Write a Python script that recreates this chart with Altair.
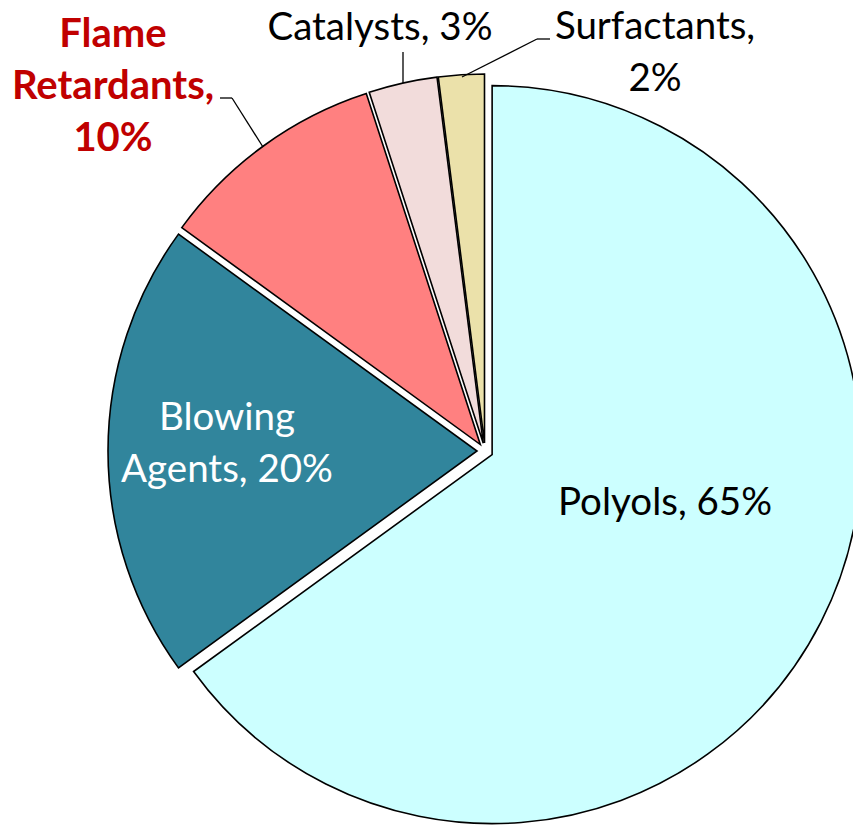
import altair as alt
import pandas as pd

# Foam formulation components, clockwise from 12 o'clock
components = ["Polyols", "Blowing Agents", "Flame Retardants", "Catalysts", "Surfactants"]
shares = [65, 20, 10, 3, 2]
slice_colors = ["#CCFFFF", "#31859C", "#FF8080", "#F2DCDB", "#EBE1AA"]

W, H = 853, 825
CX, CY = 485, 451          # pie centre in pixels
RADIUS = 369
EXPLODE = 8                # how far each slice is pulled out along its bisector
FONT = "Lato"
FS = 38.5

df = pd.DataFrame({"name": components, "value": shares, "idx": list(range(len(components)))})

base = alt.Chart(df).transform_joinaggregate(
    total="sum(value)"
).transform_window(
    cum="sum(value)", sort=[alt.SortField("idx")], frame=[None, 0]
).transform_calculate(
    mid="2*PI*(datum.cum - datum.value/2)/datum.total"
).transform_calculate(
    ex=f"{EXPLODE}*sin(datum.mid)",
    ey=f"-{EXPLODE}*cos(datum.mid)",
)

pie = base.mark_arc(radius=RADIUS, stroke="black", strokeWidth=1.6).encode(
    theta=alt.Theta("value:Q", stack=True),
    order=alt.Order("idx:Q"),
    color=alt.Color("name:N", scale=alt.Scale(domain=components, range=slice_colors), legend=None),
    x=alt.X("ex:Q", stack=False, axis=None, scale=alt.Scale(domain=[-CX, W - CX], nice=False, zero=False)),
    y=alt.Y("ey:Q", stack=False, axis=None, scale=alt.Scale(domain=[H - CY, -CY], nice=False, zero=False)),
)


def label(text, x, y, color="black", weight="normal", size=FS):
    return alt.Chart(alt.Data(values=[{}])).mark_text(
        text=text, font=FONT, fontSize=size, fontWeight=weight, color=color,
        align="center", baseline="alphabetic", lineBreak="\n", lineHeight=52,
    ).encode(x=alt.value(x), y=alt.value(y))


def segment(x1, y1, x2, y2):
    return alt.Chart(alt.Data(values=[{}])).mark_rule(color="black", strokeWidth=1.3).encode(
        x=alt.value(x1), y=alt.value(y1), x2=alt.value(x2), y2=alt.value(y2)
    )


labels = [
    label("Polyols, 65%", 665, 515),
    label("Blowing\nAgents, 20%", 227, 430, color="white"),
    label("Flame\nRetardants,\n10%", 113, 47, color="#C00000", weight="bold", size=40),
    label("Catalysts, 3%", 380, 40),
    label("Surfactants,\n2%", 655, 39),
]

leaders = [
    segment(220, 98, 232, 98),
    segment(232, 98, 263, 147),
    segment(403, 52, 403, 83),
    segment(537, 39, 550, 39),
    segment(537, 39, 462, 77),
]

chart = alt.layer(pie, *leaders, *labels).properties(
    width=W, height=H, autosize="none", padding=0
).configure_view(stroke=None)

chart.save("out.html", embed_options={"renderer": "svg", "actions": False})
